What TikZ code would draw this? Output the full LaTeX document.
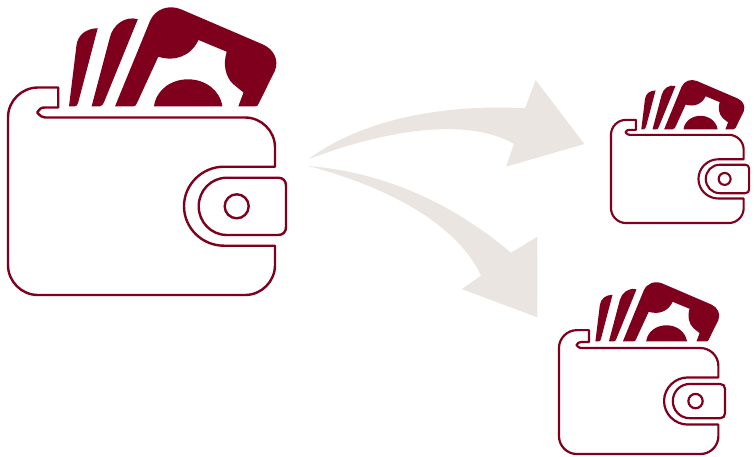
\documentclass[tikz,border=0pt]{standalone}
\definecolor{wine}{HTML}{7F001C}
\definecolor{sand}{HTML}{EAE5E1}
\tikzset{
  pics/wallet/.style={code={
    % money
    \fill[wine] (69,106.4) -- (76.4,46) .. controls (77.5,35) and (86,28.5) .. (97.7,28.2)
      -- (78.2,102.5) .. controls (77.6,105) and (76.5,106.4) .. (74.5,106.4) -- cycle;
    \fill[wine] (91.6,106.4) -- (110,37) .. controls (113,25) and (125,15.5) .. (137.8,19.2)
      -- (104.5,101) .. controls (103,104.5) and (102,106.4) .. (99.5,106.4) -- cycle;
    \fill[wine] (115,106.4) -- (150,21) .. controls (155,9) and (169,4) .. (181.5,9.5)
      -- (263,44.5) .. controls (274,49.5) and (279,60) .. (275,70.5)
      -- (259,103) .. controls (258,105.5) and (257,106.4) .. (255,106.4)
      -- (238.3,106.4) -- (243.5,92.5) -- (233,84)
      .. controls (225,76) and (223,64) .. (226.7,51.7)
      -- (198.5,40) .. controls (191,56) and (175,62) .. (158.3,56.7)
      -- (137,103) .. controls (136,105.5) and (135,106.4) .. (133,106.4) -- cycle;
    \fill[wine] (154,106.4) .. controls (156,90) and (171,79.3) .. (188,79.3)
      .. controls (205,79.3) and (220,90) .. (222.4,106.4) -- cycle;
    % body
    \draw[wine,line join=round] (58.2,87.5) -- (38,87.5)
      .. controls (21.5,87.5) and (8,101) .. (8,117.5) -- (8,265)
      .. controls (8,281.5) and (21.5,295) .. (38,295) -- (245,295)
      .. controls (261.5,295) and (275,281.5) .. (275,265) -- (275,245.7) -- (224,245.7)
      .. controls (202,245.7) and (184,228) .. (184,206.2)
      .. controls (184,184.5) and (202,166.7) .. (224,166.7) -- (275,166.7) -- (275,147.5)
      .. controls (275,131) and (261.5,117.5) .. (245,117.5) -- (45,117.5)
      .. controls (42,117.5) and (40.5,116) .. (37.2,112.5)
      .. controls (40,108.5) and (41,107.5) .. (45,107.5) -- (58.2,107.5) -- cycle;
    % clasp
    \draw[wine,line join=round] (227,177.7) -- (278,177.7)
      .. controls (283,177.7) and (286,180.7) .. (286,185.7) -- (286,227)
      .. controls (286,232) and (283,235) .. (278,235) -- (227,235)
      .. controls (211,235) and (198.7,222) .. (198.7,206.3)
      .. controls (198.7,190.5) and (211,177.7) .. (227,177.7) -- cycle;
    \draw[wine] (236.7,206.3) circle[radius=12];
  }}
}
\begin{document}
\begin{tikzpicture}[x=1pt,y=-1pt]
  \useasboundingbox (0,0) rectangle (754,456);
  % arrows
  \fill[sand] (308.3,159.3) .. controls (365,117) and (450,104) .. (525,108.3)
    -- (535.7,80) -- (584.3,144) -- (506,166.7) -- (514,144)
    .. controls (470,118) and (390,128) .. (308.3,159.3) -- cycle;
  \fill[sand] (308.3,166) .. controls (385,172) and (455,205) .. (511,252.7)
    -- (537.3,236.7) -- (537.3,317.3) -- (461.7,289) -- (481,275.7)
    .. controls (455,220) and (380,185) .. (308.3,166) -- cycle;
  % wallets
  \pic[line width=2.4pt] at (0,0) {wallet};
  \pic[scale=0.497,line width=2.1pt] at (607,76.4) {wallet};
  \pic[scale=0.597,line width=2.2pt] at (554.2,277.9) {wallet};
\end{tikzpicture}
\end{document}
